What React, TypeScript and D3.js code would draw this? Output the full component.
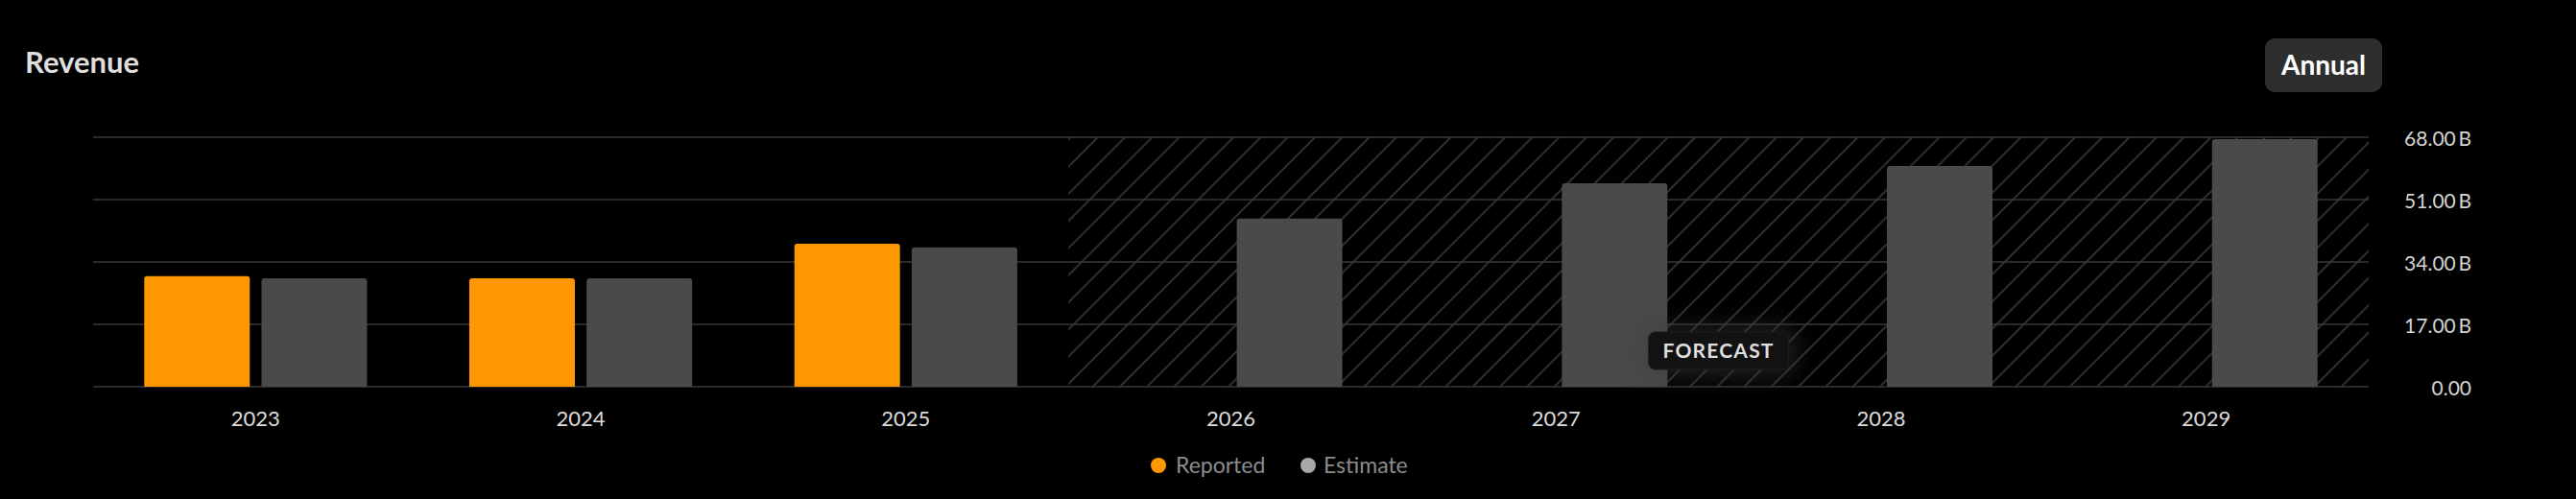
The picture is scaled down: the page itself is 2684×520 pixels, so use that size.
import React, { useEffect } from "react";
import * as d3 from "d3";

const categories = ["2023", "2024", "2025", "2026", "2027", "2028", "2029"];
const reported: (number | null)[] = [30.15, 29.55, 38.96, null, null, null, null];
const estimate: number[] = [29.55, 29.55, 38.0, 45.84, 55.44, 60.15, 67.47];
const yTicks = [0, 17, 34, 51, 68];
const seriesNames = ["Reported", "Estimate"];
const forecastStart = 3;

const W = 2684;
const H = 520;
const FONT = "Lato, 'Noto Sans', sans-serif";
const ORANGE = "#ff9800";
const GREY = "#4a4a4a";

function topRoundedBar(x: number, y: number, w: number, h: number, r: number) {
  const rr = Math.min(r, h, w / 2);
  return `M${x},${y + h}V${y + rr}Q${x},${y} ${x + rr},${y}H${x + w - rr}Q${x + w},${y} ${x + w},${y + rr}V${y + h}Z`;
}

export default function App() {
  useEffect(() => {
    document.body.style.margin = "0";
    document.body.style.background = "#000";
  }, []);

  const x = d3.scaleBand<string>().domain(categories).range([97, 2468]).padding(0);
  const x1 = d3
    .scaleBand<string>()
    .domain(seriesNames)
    .range([0, x.bandwidth()])
    .paddingInner(0.1)
    .paddingOuter(0.436);
  const y = d3.scaleLinear().domain([0, 68]).range([403, 143]);

  const fx0 = x(categories[forecastStart])!;
  const fx1 = x.range()[1];
  const fcx = (fx0 + fx1) / 2;

  return (
    <svg width={W} height={H} style={{ display: "block", background: "#000" }} fontFamily={FONT}>
      <defs>
        <pattern id="hatch" patternUnits="userSpaceOnUse" width={20} height={20} patternTransform="rotate(45)">
          <line x1={10} y1={-1} x2={10} y2={21} stroke="#3e3e3e" strokeWidth={1.5} />
        </pattern>
        <filter id="glow" x="-50%" y="-100%" width="200%" height="300%">
          <feGaussianBlur stdDeviation={12} />
        </filter>
      </defs>
      <rect x={0} y={0} width={W} height={H} fill="#000" />

      <text x={26} y={76} fill="#dedede" fontSize={31} fontWeight={700}>
        Revenue
      </text>

      <rect x={2360} y={40} width={122} height={56} rx={10} fill="#2e2e2e" />
      <text x={2421} y={78} textAnchor="middle" fill="#ffffff" fontSize={28} fontWeight={700}>
        Annual
      </text>

      <rect x={fx0} y={y(68)} width={fx1 - fx0} height={y(0) - y(68)} fill="url(#hatch)" />

      {yTicks.map((t) => (
        <g key={t}>
          <line x1={x.range()[0]} x2={x.range()[1]} y1={y(t)} y2={y(t)} stroke="#383838" strokeWidth={1.5} />
          <text x={2575} y={y(t) + 9} textAnchor="end" fill="#d4d4d4" fontSize={21}>
            {t === 0 ? "0.00" : `${t.toFixed(2)}\u2009B`}
          </text>
        </g>
      ))}

      {categories.map((c, i) => {
        const bx = x(c)!;
        const r = reported[i];
        const e = estimate[i];
        return (
          <g key={c}>
            {r != null && (
              <path
                d={topRoundedBar(bx + x1("Reported")!, y(r), x1.bandwidth(), y(0) - y(r), 3)}
                fill={ORANGE}
              />
            )}
            <path
              d={topRoundedBar(bx + x1("Estimate")!, y(e), x1.bandwidth(), y(0) - y(e), 3)}
              fill={GREY}
            />
            <text x={bx + x.bandwidth() / 2} y={444} textAnchor="middle" fill="#dcdcdc" fontSize={22}>
              {c}
            </text>
          </g>
        );
      })}

      <rect x={fcx - 80} y={340} width={160} height={52} rx={12} fill="#3a3a3a" opacity={0.55} filter="url(#glow)" />
      <rect x={fcx - 73} y={346} width={146} height={39} rx={7} fill="#121212" stroke="#1e1e1e" />
      <text x={fcx} y={373} textAnchor="middle" fill="#dedede" fontSize={21} fontWeight={700} letterSpacing={1.2}>
        FORECAST
      </text>

      <g>
        <circle cx={1207} cy={485} r={8} fill={ORANGE} />
        <text x={1225} y={493} fill="#8c8c8c" fontSize={23}>
          {seriesNames[0]}
        </text>
        <circle cx={1363} cy={485} r={8} fill="#a8a8a8" />
        <text x={1379} y={493} fill="#8c8c8c" fontSize={23}>
          {seriesNames[1]}
        </text>
      </g>
    </svg>
  );
}
